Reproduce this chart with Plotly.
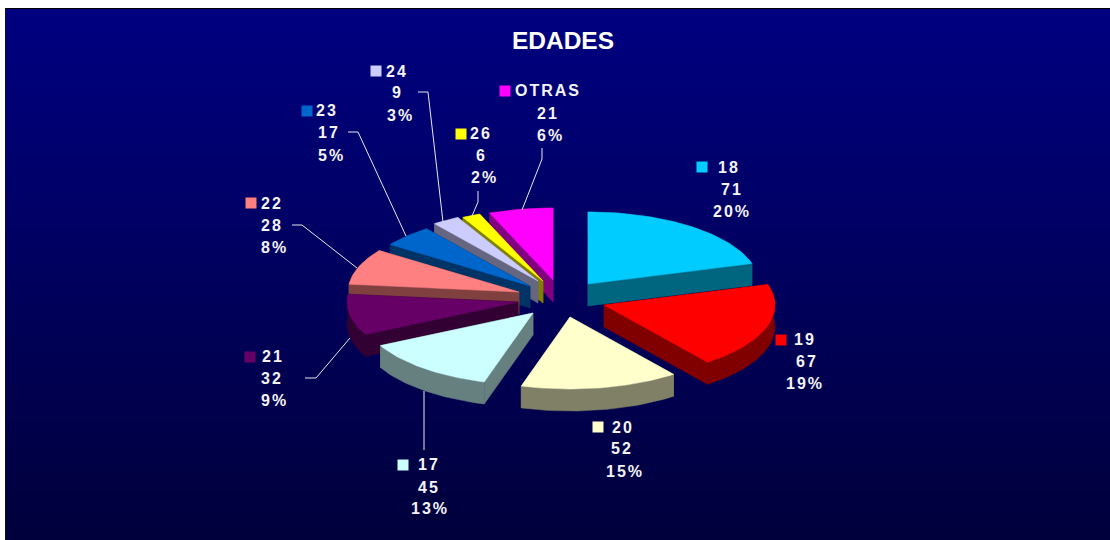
import math
import plotly.graph_objects as go

# ---- data ----
categories = ["18", "19", "20", "17", "21", "22", "23", "24", "26", "OTRAS"]
values = [71, 67, 52, 45, 32, 28, 17, 9, 6, 21]
title_text = "EDADES"

# ---- styles ----
top_colors = ["#00CCFF", "#FF0000", "#FFFFCC", "#CCFFFF", "#660066",
              "#FF8080", "#0066CC", "#CCCCFF", "#FFFF00", "#FF00FF"]
side_colors = ["#006680", "#800000", "#808066", "#668080", "#330033",
               "#804040", "#003366", "#666680", "#808000", "#800080"]
paint_order = [0, 1, 2, 9, 8, 7, 6, 5, 4, 3]

# ---- layout of the projected pie (pixels of the 1110x540 page) ----
RX, RY, DEPTH = 171, 72, 22
explode_points = [(588, 284), (604, 305), (570, 317), (533, 313), (518, 302),
                  (519, 292), (530, 286), (538, 281), (543, 281), (553, 280)]
label_swatches = [(702, 167), (781, 340), (598, 427), (403, 465), (250, 357),
                  (251, 203), (307, 111), (376, 71), (461, 134), (505, 91)]
label_cols = [(729, 732, 732), (805, 807, 805), (623, 622, 625), (429, 429, 430),
              (273, 272, 274), (272, 272, 274), (327, 329, 331), (397, 397, 400),
              (481, 481, 484), (548, 548, 550)]
label_rows = [(167, 189, 211), (339, 361, 383), (427, 448, 471), (464, 487, 508),
              (356, 378, 400), (203, 225, 247), (110, 132, 155), (71, 92, 115),
              (133, 155, 177), (90, 113, 135)]
leaders = [
    [(424, 391), (424, 450)],
    [(305, 378), (316, 378), (350, 338)],
    [(292, 225), (302, 225), (357, 268)],
    [(348, 132), (358, 132), (406, 236)],
    [(418, 92), (428, 92), (443, 222)],
    [(478, 191), (478, 202), (472, 216)],
    [(542, 148), (542, 159), (522, 210)],
]

total = sum(values)
fig = go.Figure()


def poly(points, color):
    xs = [p[0] for p in points] + [points[0][0]]
    ys = [p[1] for p in points] + [points[0][1]]
    fig.add_trace(go.Scatter(x=xs, y=ys, mode="lines", fill="toself", fillcolor=color,
                             line=dict(color=color, width=0.5), hoverinfo="skip",
                             showlegend=False))


# angles come from the values, clockwise from 12 o'clock
edges = [0.0]
for v in values:
    edges.append(edges[-1] + v / total * 2 * math.pi)

for i in paint_order:
    ax, ay = explode_points[i]
    a0, a1 = edges[i], edges[i + 1]
    n = max(6, int((a1 - a0) * 40))
    arc = [(ax + RX * math.sin(a0 + (a1 - a0) * k / n),
            ay - RY * math.cos(a0 + (a1 - a0) * k / n)) for k in range(n + 1)]
    down = lambda p: (p[0], p[1] + DEPTH)
    apex = (ax, ay)
    # extruded faces: hidden ones end up below the top face
    poly([apex, arc[0], down(arc[0]), down(apex)], side_colors[i])
    poly([apex, arc[-1], down(arc[-1]), down(apex)], side_colors[i])
    poly(arc + [down(p) for p in reversed(arc)], side_colors[i])
    poly([apex] + arc, top_colors[i])

for seg in leaders:
    fig.add_trace(go.Scatter(x=[p[0] for p in seg], y=[p[1] for p in seg], mode="lines",
                             line=dict(color="#E8E8F0", width=1), hoverinfo="skip",
                             showlegend=False))

fig.add_trace(go.Scatter(x=[p[0] for p in label_swatches], y=[p[1] for p in label_swatches],
                         mode="markers", hoverinfo="skip", showlegend=False,
                         marker=dict(symbol="square", size=11, color=top_colors,
                                     line=dict(width=0))))

annotations = []
for i, cat in enumerate(categories):
    lines = [cat, str(values[i]), f"{round(values[i] / total * 100)}%"]
    for text, x, y in zip(lines, label_cols[i], label_rows[i]):
        annotations.append(dict(x=x, y=y, xref="x", yref="y", text=f"<b>{text}</b>",
                                showarrow=False, xanchor="center", yanchor="middle",
                                font=dict(family="Liberation Sans", size=16, color="#F4F4F8")))

# gradient page background, white outer margin, dark frame
shapes = []
TOP, BOTTOM, LEFT, RIGHT = 9, 540, 6, 1110
bands = 68
c0, c1 = (0, 0, 128), (0, 0, 60)
for k in range(bands):
    f = k / (bands - 1)
    col = "rgb(0,0,%d)" % round(c0[2] + (c1[2] - c0[2]) * f)
    y0 = TOP + (BOTTOM - TOP) * k / bands
    # each band runs to the bottom, so no seam shows between neighbours
    shapes.append(dict(type="rect", xref="x", yref="y", x0=LEFT, x1=RIGHT, y0=y0, y1=BOTTOM,
                       fillcolor=col, line=dict(width=0), layer="below"))
shapes.append(dict(type="rect", xref="x", yref="y", x0=5, x1=RIGHT, y0=8, y1=9,
                   fillcolor="#000000", line=dict(width=0), layer="below"))
shapes.append(dict(type="rect", xref="x", yref="y", x0=5, x1=6, y0=8, y1=BOTTOM,
                   fillcolor="#101018", line=dict(width=0), layer="below"))

fig.update_layout(
    width=1110, height=540, margin=dict(l=0, r=0, t=0, b=0),
    paper_bgcolor="white", plot_bgcolor="white", showlegend=False,
    title=dict(text=f"<b>{title_text}</b>", x=563 / 1110, y=1 - 40 / 540,
               xanchor="center", yanchor="middle", xref="paper", yref="paper",
               font=dict(family="Liberation Sans", size=24.5, color="white")),
    xaxis=dict(range=[0, 1110], visible=False, fixedrange=True),
    yaxis=dict(range=[540, 0], visible=False, fixedrange=True),
    shapes=shapes, annotations=annotations,
)

fig.write_html(
    "out.html",
    config={"displayModeBar": False},
    post_script=(
        "document.body.style.margin='0';"
        "document.documentElement.style.overflow='hidden';"
        "document.querySelectorAll('.annotation-text').forEach(function(t){"
        "t.style.letterSpacing='2px';});"
    ),
)
